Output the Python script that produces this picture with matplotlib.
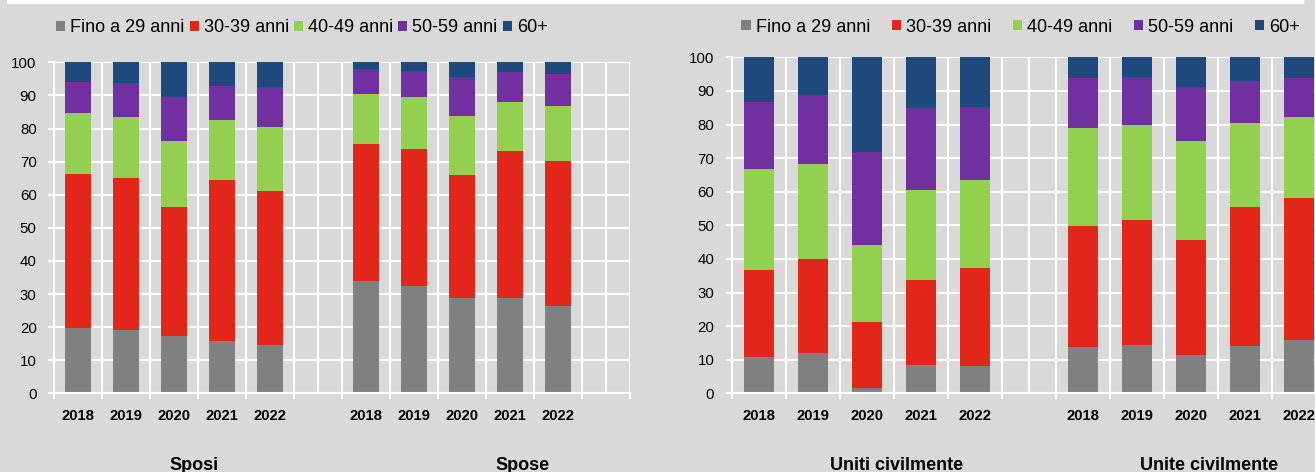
import matplotlib
matplotlib.use("Agg")
import matplotlib.pyplot as plt
from matplotlib import font_manager
from matplotlib.patches import Patch, Rectangle

# chart data (percent of each group by age class)
years = ["2018", "2019", "2020", "2021", "2022"]
age_classes = ["Fino a 29 anni", "30-39 anni", "40-49 anni", "50-59 anni", "60+"]
colors = ["#808080", "#e3261a", "#92d050", "#7030a0", "#1f497d"]

sposi = [
    [19.8, 19.0, 17.2, 15.8, 14.5],
    [46.5, 45.9, 39.1, 48.7, 46.6],
    [18.4, 18.7, 19.8, 18.0, 19.5],
    [9.4, 10.2, 13.3, 10.3, 11.8],
    [5.9, 6.2, 10.6, 7.2, 7.6],
]
spose = [
    [34.0, 32.4, 28.7, 28.9, 26.4],
    [41.3, 41.4, 37.2, 44.4, 43.8],
    [15.2, 15.8, 18.0, 14.8, 16.6],
    [7.4, 7.9, 11.6, 8.9, 9.8],
    [2.1, 2.5, 4.5, 3.0, 3.4],
]
uniti = [
    [10.8, 12.0, 1.6, 8.4, 8.1],
    [25.9, 28.0, 19.7, 25.3, 29.1],
    [30.1, 28.3, 22.9, 26.9, 26.4],
    [20.0, 20.5, 27.5, 24.2, 21.5],
    [13.2, 11.2, 28.3, 15.2, 14.9],
]
unite = [
    [13.8, 14.3, 11.3, 14.0, 16.0],
    [36.0, 37.4, 34.4, 41.5, 42.2],
    [29.2, 28.3, 29.3, 25.0, 24.1],
    [14.7, 14.0, 16.2, 12.4, 11.5],
    [6.3, 6.0, 8.8, 7.1, 6.2],
]
titles = ["Sposi", "Spose", "Uniti civilmente", "Unite civilmente"]

W, H = 1315, 472
BG = "#d9d9d9"

# narrow font if there is one, otherwise plain Liberation Sans at smaller sizes
installed = {f.name for f in font_manager.fontManager.ttflist}
if "Liberation Sans Narrow" in installed:
    main_font = "Liberation Sans Narrow"
    fs_leg, fs_y, fs_year = 15, 12.3, 13
else:
    main_font = "Liberation Sans"
    fs_leg, fs_y, fs_year = 13, 10.8, 10.7
plt.rcParams["font.family"] = [main_font, "DejaVu Sans"]


def draw_panel(ax, first, second):
    ax.set_facecolor(BG)
    pos_a = list(range(0, 5))
    pos_b = list(range(6, 11))
    for pos, data in ((pos_a, first), (pos_b, second)):
        bottom = [0] * len(pos)
        for vals, col in zip(data, colors):
            ax.bar(pos, vals, width=0.55, bottom=bottom, color=col, zorder=2)
            bottom = [b + v for b, v in zip(bottom, vals)]

    ax.set_xlim(-0.5, 11.5)
    ax.set_ylim(0, 100)
    ax.set_yticks(range(0, 101, 10))
    ax.set_xticks(pos_a + pos_b)
    ax.set_xticklabels(years + years, fontweight="bold", fontsize=fs_year)
    ax.set_xticks([k - 0.5 for k in range(13)], minor=True)

    ax.tick_params(axis="x", which="major", length=0, pad=11.5)
    ax.tick_params(axis="x", which="minor", length=4, width=1.5, color="white")
    ax.tick_params(axis="y", length=4, width=1.5, color="white", labelsize=fs_y, pad=8.5)

    ax.set_axisbelow(True)
    ax.yaxis.grid(True, color="white", lw=1.5)
    ax.xaxis.grid(True, which="minor", color="white", lw=1.5)
    ax.xaxis.grid(False, which="major")
    for x in (5, 11):
        ax.axvline(x, color="white", lw=1.5, zorder=0.6)

    for s in ("top", "right"):
        ax.spines[s].set_visible(False)
    for s in ("left", "bottom"):
        ax.spines[s].set_color("white")
        ax.spines[s].set_linewidth(1.5)


fig = plt.figure(figsize=(W / 100, H / 100), dpi=100, facecolor=BG)
fig.patches.append(Rectangle((7 / W, 1 - 3 / H), (1303 - 7) / W, 3 / H,
                             transform=fig.transFigure, color="white"))

ax1 = fig.add_axes([54 / W, (H - 393.3) / H, 576 / W, 331 / H])
draw_panel(ax1, sposi, spose)

ax2 = fig.add_axes([731.7 / W, (H - 393.3) / H, 648 / W, 336 / H])
draw_panel(ax2, uniti, unite)

handles = [Patch(facecolor=c, label=l) for c, l in zip(colors, age_classes)]
for x0, y0, gap in ((56, 28, 0.28), (741.5, 27, 1.2)):
    fig.legend(handles=handles, ncol=5, loc="center left",
               bbox_to_anchor=(x0 / W, 1 - y0 / H), frameon=False,
               fontsize=fs_leg, handlelength=0.5, handleheight=0.5,
               handletextpad=0.28, columnspacing=gap,
               borderpad=0, borderaxespad=0)

for t, x in zip(titles, (194, 523, 897, 1209)):
    fig.text(x / W, 1 - 465 / H, t, ha="center", va="center",
             fontsize=13, fontweight="bold")

fig.savefig("out.png", dpi=100, facecolor=BG)
